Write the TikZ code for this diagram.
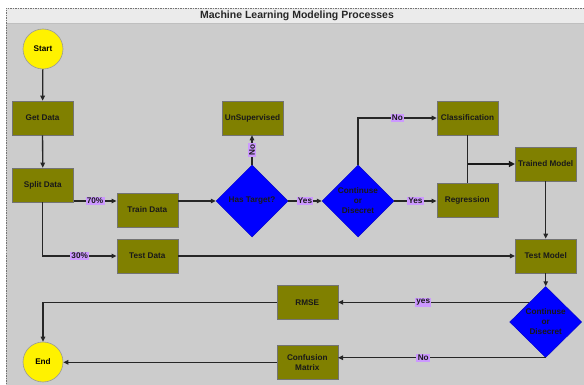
\documentclass[tikz,border=0pt]{standalone}
\usepackage{fontspec}
\setmainfont{Liberation Sans}
\usetikzlibrary{shapes.geometric,arrows.meta,calc}
\definecolor{olivebox}{HTML}{808000}
\definecolor{bggray}{HTML}{CCCCCC}
\definecolor{titlegray}{HTML}{EBEBEB}
\definecolor{lav}{HTML}{CC99FF}
\definecolor{decblue}{HTML}{0000FF}
\begin{document}
\begin{tikzpicture}[x=1pt,y=-1pt,
  nodefont/.style={font=\fontsize{8.2}{10}\selectfont\bfseries},
  box/.style={nodefont, draw=black!55, fill=olivebox, minimum width=61pt, minimum height=34pt, inner sep=1pt, align=center, line width=0.6pt, text=black!90},
  term/.style={nodefont, circle, draw=black!40, fill=yellow, minimum size=40pt, inner sep=0pt, line width=0.6pt},
  dec/.style={nodefont, diamond, draw=blue!80!black, fill=decblue, minimum width=72pt, minimum height=72pt, inner sep=0pt, align=center, text=black!90, line width=0.5pt},
  lab/.style={nodefont, fill=lav, inner sep=1.3pt, text=black!90},
  conn/.style={draw=black!85, line width=1.3pt, -{Triangle[length=5pt,width=4.5pt]}},
  plain/.style={draw=black!85, line width=1.3pt},
  heavy/.style={draw=black!90, line width=2.8pt, -{Triangle[length=6pt,width=6pt]}}
]
\useasboundingbox (0,0) rectangle (584,385);
% frame
\begin{scope}
\clip (0,0) rectangle (584,385);
\fill[bggray] (6,8) rectangle (592,394);
\fill[titlegray] (6,8) rectangle (592,23);
\draw[black!25, line width=0.5pt] (6,23) -- (592,23);
\draw[black!55, dashed, line width=0.5pt, dash pattern=on 1.5pt off 1pt] (6,394) -- (6,8) -- (592,8);
\end{scope}
\node[font=\fontsize{10.5}{12}\selectfont\bfseries, text=black!85] (title) at (297,16) {Machine Learning Modeling Processes};

% nodes
\node[term] (start) at (43,49) {Start};
\node[box] (getdata) at (42.5,118) {Get Data};
\node[box] (split) at (42.8,185) {Split Data};
\node[box] (train) at (147.3,210) {Train Data};
\node[box] (test) at (147.3,256) {Test Data};
\node[box] (unsup) at (252.5,118) {UnSupervised};
\node[dec] (hastarget) at (252,201) {Has Target?};
\node[dec] (cont) at (358,201) {Continuse\\or\\Disecret};
\node[box] (class) at (467.5,118) {Classification};
\node[box] (regr) at (467.3,200.3) {Regression};
\node[box] (trained) at (545.7,164) {Trained Model};
\node[box] (testmodel) at (545.7,256) {Test Model};
\node[dec, minimum height=71pt] (cont2) at (545.7,322) {Continuse\\or\\Disecret};
\node[box] (rmse) at (307.3,302.3) {RMSE};
\node[box] (conf) at (307.3,362.3) {Confusion\\Matrix};
\node[term] (end) at (43,362) {End};

\coordinate (r1) at (0,201);

% connectors
\draw[conn] (start) -- (getdata);
\draw[conn] (getdata) -- (split);
\draw[conn] (split.east |- r1) -- node[lab] {70\%} (train.west |- r1);
\draw[conn] (train.east |- r1) -- (hastarget.west);
\draw[conn] (hastarget.east) -- node[lab] {Yes} (cont.west);
\draw[conn] (cont.east) -- node[lab] {Yes} (regr.west |- cont.east);
\draw[conn] (hastarget.north) -- node[lab, rotate=90] {No} (unsup.south -| hastarget.north);
\draw[conn] (cont.north) |- node[lab, pos=0.75] {No} (class.west);
\draw[plain] (class.south) -- (regr.north -| class.south);
\draw[heavy] (class.south |- trained.west) -- (trained.west);
\draw[conn] (trained) -- (testmodel);
\draw[conn] (split.south) |- node[lab, pos=0.75] {30\%} (test.west);
\draw[conn] (test.east) -- (testmodel.west |- test.east);
\draw[conn] (testmodel) -- (cont2.north);
\coordinate (y1) at ($(cont2.north)!0.45!(cont2.west)$);
\draw[conn] (y1) -- node[lab, pos=0.555] {yes} (y1 -| rmse.east);
\draw[conn] (cont2.south) -- node[lab, pos=0.59] {No} (cont2.south -| conf.east);
\draw[conn] (rmse.west |- y1) -| (end.north);
\draw[conn] (conf.west) -- (end.east |- conf.west);
\end{tikzpicture}
\end{document}
